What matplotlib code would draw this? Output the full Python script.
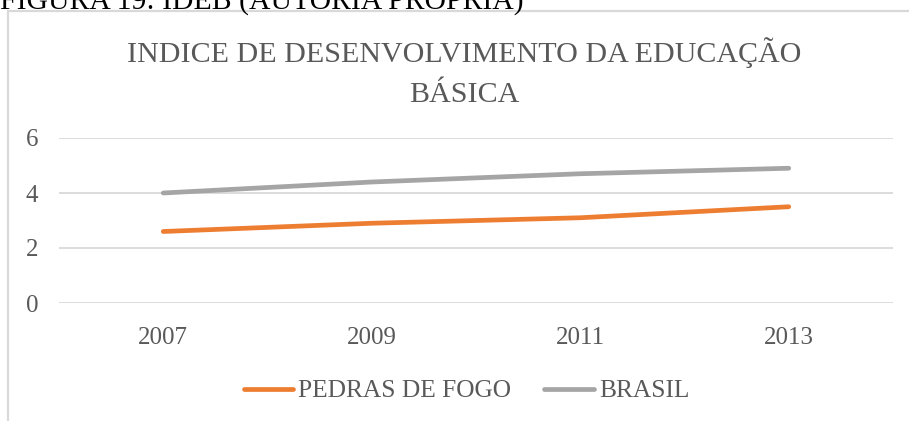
import matplotlib
matplotlib.use("Agg")
import matplotlib.pyplot as plt
from matplotlib.patches import Rectangle
from matplotlib.lines import Line2D

years = ["2007", "2009", "2011", "2013"]
pedras_de_fogo = [2.6, 2.9, 3.1, 3.5]
brasil = [4.0, 4.4, 4.7, 4.9]
yticks = [0, 2, 4, 6]

plt.rcParams["font.family"] = "Liberation Serif"

W, H = 909, 421
fig = plt.figure(figsize=(W / 100, H / 100), dpi=100)
fig.patch.set_facecolor("white")

serif = "Liberation Serif"
txt_color = "#595959"

def px(x, y):
    return x / W, 1 - y / H

# outer chart frame (extends beyond the picture)
frame = Rectangle(px(8, 500), (W + 50) / W, (500 - 11) / H, transform=fig.transFigure,
                  fill=False, edgecolor="#D9D9D9", linewidth=1.6, clip_on=False)
fig.patches.append(frame)

# clipped caption at top
fig.text(0 / W, 1 - 9 / H, "FIGURA 19: IDEB (AUTORIA PRÓPRIA)", family=serif,
         fontsize=21.4, color="black", ha="left", va="baseline")

ax = fig.add_axes([59 / W, (H - 303) / H, 834 / W, 165 / H])
x = list(range(len(years)))
ax.plot(x, pedras_de_fogo, color="#ED7D31", linewidth=3.4, solid_capstyle="round",
        label="PEDRAS DE FOGO", zorder=3)
ax.plot(x, brasil, color="#A5A5A5", linewidth=3.4, solid_capstyle="round",
        label="BRASIL", zorder=3)
ax.set_xlim(-0.5, len(years) - 0.5)
ax.set_ylim(0, 6)
ax.set_yticks(yticks)
ax.set_yticklabels([str(v) for v in yticks])
ax.set_xticks(x)
ax.set_xticklabels(years)
ax.grid(axis="y", color="#D9D9D9", linewidth=1.3)
ax.set_axisbelow(True)
for s in ax.spines.values():
    s.set_visible(False)
ax.tick_params(axis="both", length=0, labelsize=18, colors=txt_color)
ax.tick_params(axis="y", pad=15)
ax.tick_params(axis="x", pad=17)

fig.text(464 / W, 1 - 62 / H, "INDICE DE DESENVOLVIMENTO DA EDUCAÇÃO",
         family=serif, fontsize=21.6, color=txt_color, ha="center", va="baseline")
fig.text(464 / W, 1 - 102 / H, "BÁSICA",
         family=serif, fontsize=21.6, color=txt_color, ha="center", va="baseline")

leg = fig.legend(handles=[Line2D([], [], color="#ED7D31", linewidth=3.4, solid_capstyle="round"),
                          Line2D([], [], color="#A5A5A5", linewidth=3.4, solid_capstyle="round")],
                 labels=["PEDRAS DE FOGO", "BRASIL"], loc="center", bbox_to_anchor=px(466.5, 391),
                 ncol=2, frameon=False, handlelength=1.95, handletextpad=0.2, columnspacing=1.3,
                 prop={"family": serif, "size": 18.3})
for t in leg.get_texts():
    t.set_color(txt_color)

fig.savefig("out.png", dpi=100, facecolor="white")
